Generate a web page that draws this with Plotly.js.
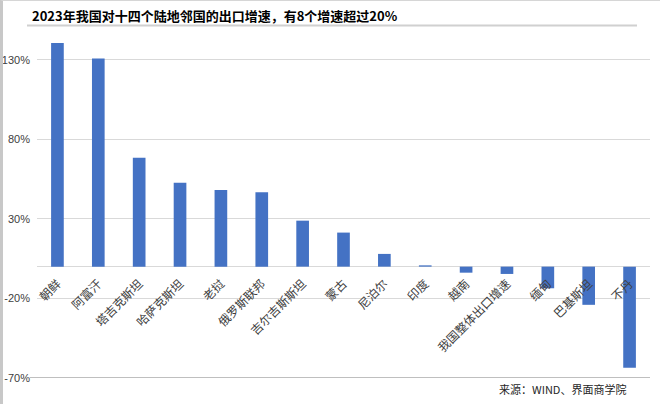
<!DOCTYPE html>
<html>
<head>
<meta charset="utf-8">
<script src="https://cdn.plot.ly/plotly-3.0.1.min.js"></script>
<style>
  html, body { margin: 0; padding: 0; background: #fff; }
  #wrap { position: relative; width: 660px; height: 404px; }
  #chart { width: 660px; height: 404px; }
  #frame { position: absolute; left: 0; top: 0; width: 660px; height: 404px; box-sizing: border-box;
           border-left: 3px solid #c8c8c8; border-top: 1px solid #d6d6d6; pointer-events: none; }
</style>
</head>
<body>
<div id="wrap"><div id="chart"></div><div id="frame"></div></div>
<script>
// Data (export growth 2023, %)
const categories = ['朝鲜','阿富汗','塔吉克斯坦','哈萨克斯坦','老挝','俄罗斯联邦','吉尔吉斯斯坦','蒙古','尼泊尔','印度','越南','我国整体出口增速','缅甸','巴基斯坦','不丹'];
const values = [140.5, 130.8, 68.4, 52.8, 48.2, 46.8, 28.9, 21.4, 8.0, 0.8, -3.8, -4.6, -13.6, -24.0, -63.5];
const yTicks = [-70, -20, 30, 80, 130];
const titleText = '2023年我国对十四个陆地邻国的出口增速，有8个增速超过20%';
const sourceText = '来源：WIND、界面商学院';

const trace = {
  type: 'bar',
  x: categories,
  y: values,
  marker: { color: '#4472C4' },
  hoverinfo: 'x+y'
};

const layout = {
  width: 660,
  height: 404,
  margin: { l: 37, r: 10, t: 28, b: 26 },
  paper_bgcolor: '#ffffff',
  plot_bgcolor: '#ffffff',
  showlegend: false,
  bargap: 0.69,
  title: {
    text: titleText,
    font: { family: 'Noto Sans CJK SC, sans-serif', size: 13, color: '#000', weight: 'bold' },
    xref: 'container', x: 32/660, xanchor: 'left',
    yref: 'container', y: 1 - 16/404, yanchor: 'middle'
  },
  xaxis: {
    type: 'category',
    anchor: 'free',
    position: 70/220,
    tickangle: -45,
    showgrid: false,
    showline: false,
    ticks: '',
    ticklabelstandoff: 7,
    tickfont: { family: 'Noto Sans CJK SC, sans-serif', size: 12, color: '#404040' },
    automargin: false
  },
  yaxis: {
    range: [-70, 150],
    tickmode: 'array',
    tickvals: yTicks,
    ticktext: yTicks.map(v => v + '%'),
    showgrid: true,
    gridcolor: '#d9d9d9',
    gridwidth: 1,
    zeroline: true,
    zerolinecolor: '#d9d9d9',
    zerolinewidth: 1,
    showline: false,
    ticks: '',
    ticklabelstandoff: 6,
    tickfont: { family: 'Liberation Sans, Arial, sans-serif', size: 11, color: '#404040' },
    automargin: false
  },
  shapes: [
    { type: 'line', xref: 'paper', yref: 'y', x0: -0.012, x1: 1.0, y0: -70, y1: -70,
      line: { color: '#bfbfbf', width: 2 } },
    { type: 'line', xref: 'paper', yref: 'paper', x0: (27-37)/613, x1: (637-37)/613, y0: (378-25.5)/350, y1: (378-25.5)/350,
      line: { color: '#d0d0d0', width: 2 } }
  ],
  annotations: [
    { text: sourceText, xref: 'paper', yref: 'paper', x: (628-37)/613, y: (378-389)/350,
      xanchor: 'right', yanchor: 'middle', showarrow: false,
      font: { family: 'Noto Sans CJK SC, sans-serif', size: 11, color: '#262626' } }
  ]
};

Plotly.newPlot('chart', [trace], layout, { displayModeBar: false, staticPlot: true });
</script>
</body>
</html>
